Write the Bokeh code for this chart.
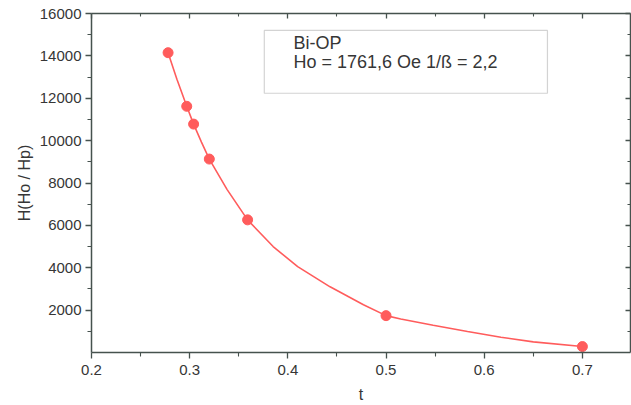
from bokeh.plotting import figure
from bokeh.models import LinearAxis, FixedTicker, Range1d, BoxAnnotation, Label, CustomJSTickFormatter
from bokeh.embed import file_html
from bokeh.resources import INLINE

# measured points
t_data = [0.278, 0.297, 0.304, 0.320, 0.359, 0.500, 0.700]
h_data = [14150, 11620, 10780, 9130, 6260, 1740, 280]

# fitted curve
curve_t = [0.278, 0.287, 0.297, 0.304, 0.312, 0.320, 0.338, 0.359, 0.385, 0.410,
           0.443, 0.477, 0.500, 0.515, 0.548, 0.583, 0.617, 0.650, 0.700]
curve_h = [14150, 12900, 11620, 10780, 9930, 9130, 7700, 6260, 5000, 4050,
           3100, 2250, 1740, 1580, 1290, 990, 720, 500, 280]

x_ticks = [0.2, 0.3, 0.4, 0.5, 0.6, 0.7]
x_minor = [0.25, 0.35, 0.45, 0.55, 0.65, 0.75]
y_ticks = [2000, 4000, 6000, 8000, 10000, 12000, 14000, 16000]
y_minor = [1000, 3000, 5000, 7000, 9000, 11000, 13000, 15000]

title_line1 = "Bi-OP"
title_line2 = "Ho = 1761,6 Oe 1/ß = 2,2"

FONT = "Liberation Sans"
TXT = "#363636"
AX = "#46524e"
RED = "#ff5c5c"

p = figure(width=631, height=405, output_backend="svg", toolbar_location=None,
           x_range=Range1d(0.2, 0.749), y_range=Range1d(0, 16000),
           min_border_left=91, min_border_right=1, min_border_top=13, min_border_bottom=52)
p.xaxis.visible = False
p.yaxis.visible = False
p.grid.visible = False
p.outline_line_color = None
p.background_fill_color = "white"
p.border_fill_color = "white"

def style(ax, inward=False):
    ax.axis_line_color = AX
    ax.axis_line_width = 1.5
    ax.major_tick_line_color = AX
    ax.minor_tick_line_color = AX
    ax.major_tick_line_width = 1.3
    ax.minor_tick_line_width = 1.1
    if inward:
        ax.major_tick_in = 5
        ax.major_tick_out = 0
        ax.minor_tick_in = 3
        ax.minor_tick_out = 0
    else:
        ax.major_tick_in = 0
        ax.major_tick_out = 6
        ax.minor_tick_in = 0
        ax.minor_tick_out = 4
    ax.major_label_text_font = FONT
    ax.major_label_text_color = TXT
    ax.major_label_text_font_size = "15px"
    ax.axis_label_text_font = FONT
    ax.axis_label_text_color = TXT
    ax.axis_label_text_font_size = "16px"
    ax.axis_label_text_font_style = "normal"

xb = LinearAxis(ticker=FixedTicker(ticks=x_ticks, minor_ticks=x_minor), axis_label="t")
style(xb)
xb.major_label_standoff = 6
xb.axis_label_standoff = 8
p.add_layout(xb, "below")

yl = LinearAxis(ticker=FixedTicker(ticks=y_ticks, minor_ticks=y_minor), axis_label="H(Ho / Hp)")
style(yl)
yl.major_label_standoff = 4
yl.axis_label_standoff = 4
p.add_layout(yl, "left")

blank = CustomJSTickFormatter(code="return ''")

xt = LinearAxis(ticker=FixedTicker(ticks=x_ticks, minor_ticks=x_minor), formatter=blank)
style(xt, inward=True)
xt.major_label_standoff = 0
p.add_layout(xt, "above")

yr = LinearAxis(ticker=FixedTicker(ticks=y_ticks, minor_ticks=y_minor), formatter=blank)
style(yr, inward=True)
yr.major_label_standoff = 0
p.add_layout(yr, "right")

p.line(curve_t, curve_h, line_color=RED, line_width=1.6)
p.scatter(t_data, h_data, size=10, fill_color=RED, line_color=RED)

box = BoxAnnotation(left=0.376, right=0.6644, top=15200, bottom=12235,
                    fill_alpha=0, line_color="#6e6e6e", line_width=1.2)
p.add_layout(box)
p.add_layout(Label(x=0.4057, y=14588, text=title_line1, text_font=FONT,
                   text_font_size="18px", text_color=TXT, text_baseline="middle"))
p.add_layout(Label(x=0.4057, y=13694, text=title_line2, text_font=FONT,
                   text_font_size="18px", text_color=TXT, text_baseline="middle"))

open("out.html", "w").write(file_html(p, INLINE))
